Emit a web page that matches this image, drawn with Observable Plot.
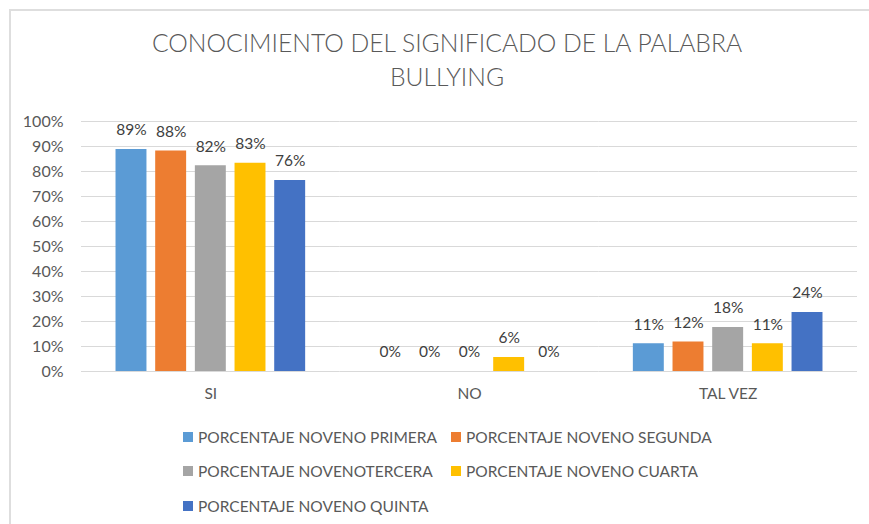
<!DOCTYPE html>
<html>
<head>
<meta charset="utf-8">
<script src="https://cdn.jsdelivr.net/npm/d3@7"></script>
<script src="https://cdn.jsdelivr.net/npm/@observablehq/plot@0.6"></script>
<style>
  html, body { margin: 0; padding: 0; background: #fff; }
  #wrap { position: relative; width: 869px; height: 524px; overflow: hidden; font-family: Lato, "Open Sans", sans-serif; }
  #frame { position: absolute; left: 9px; top: 9px; width: 900px; height: 600px; border-left: 2px solid #dedede; border-top: 2px solid #dedede; box-sizing: border-box; }
  #title { position: absolute; left: 0; top: 0; width: 894px; height: 100px; text-align: center; color: #595959; font-weight: 300; font-size: 24.7px; }
  #title div { position: absolute; left: 0; width: 894px; text-align: center; white-space: nowrap; }
  #chart { position: absolute; left: 0; top: 100px; }
  #legend { position: absolute; left: 0; top: 415px; width: 869px; height: 109px; color: #595959; font-size: 15.5px; }
  .item { position: absolute; white-space: nowrap; display: flex; align-items: center; height: 20px; }
  .sw { width: 10px; height: 10px; margin-right: 5px; flex: none; }
</style>
</head>
<body>
<div id="wrap">
  <div id="frame"></div>
  <div id="title"></div>
  <div id="chart"></div>
  <div id="legend"></div>
</div>
<script>
const titleLines = ["CONOCIMIENTO DEL SIGNIFICADO DE LA PALABRA", "BULLYING"];
const categories = ["SI", "NO", "TAL VEZ"];
const seriesNames = [
  "PORCENTAJE NOVENO PRIMERA",
  "PORCENTAJE NOVENO SEGUNDA",
  "PORCENTAJE NOVENOTERCERA",
  "PORCENTAJE NOVENO CUARTA",
  "PORCENTAJE NOVENO QUINTA"
];
const seriesColors = ["#5B9BD5", "#ED7D31", "#A5A5A5", "#FFC000", "#4472C4"];
// values per series, in category order SI, NO, TAL VEZ
const primera = [0.888, 0.000, 0.111];
const segunda = [0.882, 0.000, 0.118];
const tercera = [0.823, 0.000, 0.176];
const cuarta  = [0.833, 0.056, 0.111];
const quinta  = [0.764, 0.000, 0.236];
const yTicks = [0, 0.1, 0.2, 0.3, 0.4, 0.5, 0.6, 0.7, 0.8, 0.9, 1.0];

const seriesValues = [primera, segunda, tercera, cuarta, quinta];
const data = [];
seriesNames.forEach((s, i) => categories.forEach((c, j) => data.push({cat: c, series: s, value: seriesValues[i][j]})));

const fmt = d3.format(".0%");

const plot = Plot.plot({
  width: 869,
  height: 315,
  marginTop: 21,
  marginBottom: 44,
  marginLeft: 81,
  marginRight: 12,
  style: {fontFamily: "Lato, 'Open Sans', sans-serif", background: "transparent"},
  fx: {domain: categories, padding: 0, round: false},
  x: {domain: seriesNames, paddingInner: 0.22, paddingOuter: 0.87, round: false, axis: null},
  y: {domain: [0, 1]},
  color: {domain: seriesNames, range: seriesColors},
  marks: [
    Plot.gridY(yTicks, {stroke: "#d9d9d9", strokeOpacity: 1, strokeWidth: 1}),
    Plot.axisY(yTicks, {tickFormat: fmt, tickSize: 0, tickPadding: 18, fontSize: 16, color: "#595959", label: null}),
    Plot.axisFx({anchor: "bottom", tickSize: 0, tickPadding: 16, fontSize: 15.5, color: "#595959", label: null}),
    Plot.barY(data, {fx: "cat", x: "series", y: "value", fill: "series"}),
    Plot.text(data, {fx: "cat", x: "series", y: "value", text: d => fmt(d.value), dy: -19, lineAnchor: "middle", fontSize: 15.5, fill: "#404040"})
  ]
});
document.getElementById("chart").appendChild(plot);

// title
const title = document.getElementById("title");
const titleTops = [28, 62];
titleLines.forEach((t, i) => {
  const d = document.createElement("div");
  d.textContent = t;
  d.style.top = titleTops[i] + "px";
  title.appendChild(d);
});

// legend
const legend = document.getElementById("legend");
const legPos = [[183, 12], [451, 12], [183, 46], [451, 46], [183, 81]];
seriesNames.forEach((s, i) => {
  const it = document.createElement("div");
  it.className = "item";
  it.style.left = legPos[i][0] + "px";
  it.style.top = legPos[i][1] + "px";
  const sw = document.createElement("span");
  sw.className = "sw";
  sw.style.background = seriesColors[i];
  const tx = document.createElement("span");
  tx.textContent = s;
  it.appendChild(sw);
  it.appendChild(tx);
  legend.appendChild(it);
});
</script>
</body>
</html>
